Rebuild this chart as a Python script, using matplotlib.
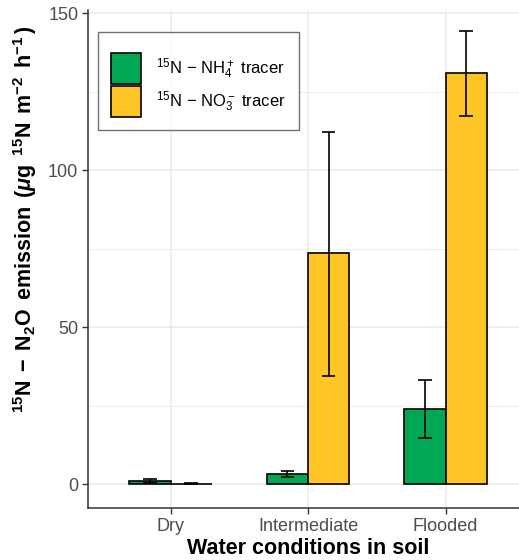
import matplotlib
matplotlib.use("Agg")
import matplotlib.pyplot as plt
import numpy as np

plt.rcParams["font.family"] = ["Liberation Sans", "DejaVu Sans"]
plt.rcParams["mathtext.fontset"] = "custom"
plt.rcParams["mathtext.rm"] = "Liberation Sans"
plt.rcParams["mathtext.it"] = "Liberation Sans:italic"
plt.rcParams["mathtext.bf"] = "Liberation Sans:bold"
plt.rcParams["mathtext.bfit"] = "Liberation Sans:bold:italic"

# data
conditions = ["Dry", "Intermediate", "Flooded"]
nh4_mean = [1.0, 3.2, 23.9]
nh4_lo = [0.5, 2.2, 14.6]
nh4_hi = [1.5, 4.2, 33.1]
no3_mean = [0.2, 73.6, 130.8]
no3_lo = [0.1, 34.4, 117.2]
no3_hi = [0.3, 112.3, 144.3]

GREEN = "#00A856"
YELLOW = "#FFC425"
GRID = "#EBEBEB"
TICK = "#4D4D4D"

fig = plt.figure(figsize=(5.19, 5.6), dpi=100)
ax = fig.add_axes([88 / 519, 52 / 560, 440 / 519, 498 / 560])

x = np.arange(1, len(conditions) + 1)
bw = 0.3
series = [
    (nh4_mean, nh4_lo, nh4_hi, GREEN, -bw / 2,
     r"$^{15}$N $-$ NH$_4^+$ tracer"),
    (no3_mean, no3_lo, no3_hi, YELLOW, bw / 2,
     r"$^{15}$N $-$ NO$_3^-$ tracer"),
]
for mean, lo, hi, col, off, lab in series:
    ax.bar(x + off, mean, width=bw, color=col, edgecolor="black",
           linewidth=1.2, label=lab, zorder=3)
    ax.vlines(x + off, lo, hi, color="black", linewidth=1.2, zorder=4)
    ax.hlines(lo, x + off - 0.05, x + off + 0.05, color="black",
              linewidth=1.2, zorder=4)
    ax.hlines(hi, x + off - 0.05, x + off + 0.05, color="black",
              linewidth=1.2, zorder=4)

ax.set_xlim(0.4, 3.6)
ax.set_ylim(-7.6, 151)
ax.set_xticks(x)
ax.set_xticklabels(conditions)
ax.set_yticks([0, 50, 100, 150])
ax.set_yticks([25, 75, 125], minor=True)
ax.tick_params(axis="both", which="major", labelsize=13, labelcolor=TICK,
               color="#333333", length=4, width=1, pad=3)
ax.tick_params(axis="y", which="minor", length=0)
ax.grid(True, which="major", color=GRID, linewidth=1.1, zorder=0)
ax.grid(True, which="minor", axis="y", color=GRID, linewidth=0.6, zorder=0)
ax.set_axisbelow(True)
for s in ["top", "right"]:
    ax.spines[s].set_visible(False)
for s in ["left", "bottom"]:
    ax.spines[s].set_color("#333333")
    ax.spines[s].set_linewidth(1.1)

ax.set_xlabel("Water conditions in soil", fontsize=15.5, fontweight="bold",
              labelpad=2)
ax.set_ylabel(r"$\mathbf{^{15}N\;-\;N_2O\ \,emission\ \,(}\boldsymbol{\mu}"
              r"\mathbf{g\ \,^{15}N\ \,m^{-2}\ \,h^{-1}\,)}$",
              fontsize=15.5)
ax.yaxis.set_label_coords(-0.112, 0.58)

leg = ax.legend(loc="upper left", bbox_to_anchor=(0.023, 0.956),
                borderaxespad=0, fontsize=12, frameon=True, fancybox=False,
                handlelength=1.85, handleheight=2.5, handletextpad=0.9,
                labelspacing=0.1, borderpad=0.75, title=" ",
                title_fontsize=6)
leg.get_frame().set_edgecolor("#4D4D4D")
leg.get_frame().set_linewidth(1.0)

fig.savefig("out.png", dpi=100)
